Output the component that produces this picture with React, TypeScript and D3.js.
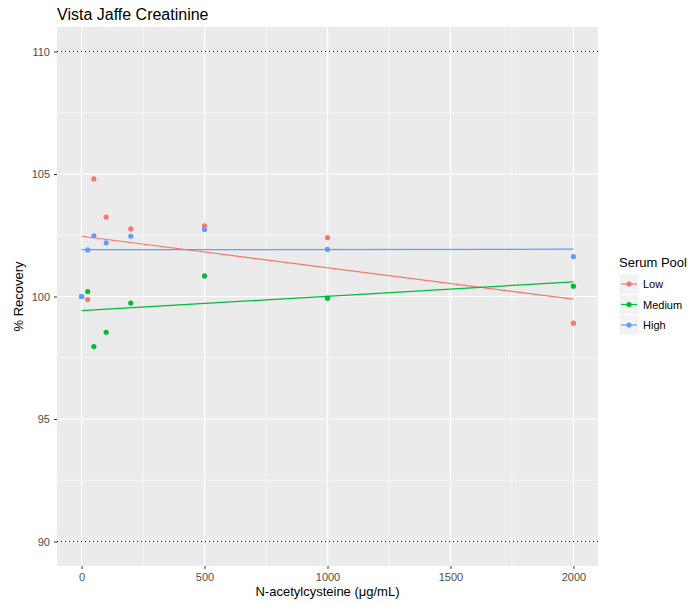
import React, { useRef, useEffect } from 'react';
import * as d3 from 'd3';

// N-acetylcysteine concentrations (ug/mL)
const doses = [0, 25, 50, 100, 200, 500, 1000, 2000];
const pools = ['Low', 'Medium', 'High'];
const colors = ['#F8766D', '#00BA38', '#619CFF'];

// % recovery per pool, one value per dose
const lowRecovery = [100.0, 99.88, 104.8, 103.24, 102.76, 102.88, 102.4, 98.91];
const mediumRecovery = [100.0, 100.2, 97.96, 98.54, 99.73, 100.84, 99.93, 100.42];
const highRecovery = [100.0, 101.9, 102.48, 102.19, 102.46, 102.73, 101.92, 101.63];

// linear fit ends (at dose 0 and dose 2000)
const lowFit = [102.46, 99.89];
const mediumFit = [99.42, 100.6];
const highFit = [101.91, 101.93];

const xTicks = [0, 500, 1000, 1500, 2000];
const xMinor = [250, 750, 1250, 1750];
const yTicks = [90, 95, 100, 105, 110];
const yMinor = [92.5, 97.5, 102.5, 107.5];
const limits = [90, 110];

const W = 699;
const H = 604;
const margin = { top: 27, right: 101, bottom: 38, left: 57 };

const App = () => {
  const svgRef = useRef<SVGSVGElement>(null);

  useEffect(() => {
    const svg = d3.select(svgRef.current);
    svg.selectAll('*').remove();

    const font = 'Liberation Sans, Arial, Helvetica, sans-serif';
    const x = d3.scaleLinear().domain([-100, 2100]).range([margin.left, W - margin.right]);
    const y = d3.scaleLinear().domain([89, 111]).range([H - margin.bottom, margin.top]);

    // panel
    svg.append('rect')
      .attr('x', margin.left)
      .attr('y', margin.top)
      .attr('width', W - margin.left - margin.right)
      .attr('height', H - margin.top - margin.bottom)
      .attr('fill', '#EBEBEB');

    const grid = svg.append('g');
    xMinor.forEach((d) => {
      grid.append('line').attr('x1', x(d)).attr('x2', x(d))
        .attr('y1', margin.top).attr('y2', H - margin.bottom)
        .attr('stroke', '#fff').attr('stroke-width', 0.6);
    });
    yMinor.forEach((d) => {
      grid.append('line').attr('y1', y(d)).attr('y2', y(d))
        .attr('x1', margin.left).attr('x2', W - margin.right)
        .attr('stroke', '#fff').attr('stroke-width', 0.6);
    });
    xTicks.forEach((d) => {
      grid.append('line').attr('x1', x(d)).attr('x2', x(d))
        .attr('y1', margin.top).attr('y2', H - margin.bottom)
        .attr('stroke', '#fff').attr('stroke-width', 1.2);
    });
    yTicks.forEach((d) => {
      grid.append('line').attr('y1', y(d)).attr('y2', y(d))
        .attr('x1', margin.left).attr('x2', W - margin.right)
        .attr('stroke', '#fff').attr('stroke-width', 1.2);
    });

    // dotted acceptance limits
    limits.forEach((d) => {
      svg.append('line').attr('y1', y(d)).attr('y2', y(d))
        .attr('x1', margin.left).attr('x2', W - margin.right)
        .attr('stroke', '#000').attr('stroke-width', 1.1)
        .attr('stroke-dasharray', '1,3');
    });

    // axes
    const xAxis = svg.append('g')
      .attr('transform', `translate(0, ${H - margin.bottom})`)
      .call(d3.axisBottom(x).tickValues(xTicks).tickFormat(d3.format('d')).tickSize(3).tickPadding(4));
    const yAxis = svg.append('g')
      .attr('transform', `translate(${margin.left}, 0)`)
      .call(d3.axisLeft(y).tickValues(yTicks).tickFormat(d3.format('d')).tickSize(3).tickPadding(4));
    [xAxis, yAxis].forEach((a) => {
      a.select('.domain').remove();
      a.selectAll('line').attr('stroke', '#333');
      a.selectAll('text').attr('fill', '#4D4D4D').style('font-family', font).style('font-size', '11px');
    });

    const series = [lowRecovery, mediumRecovery, highRecovery];
    const fits = [lowFit, mediumFit, highFit];
    const line = d3.line<[number, number]>().x((d) => x(d[0])).y((d) => y(d[1]));

    series.forEach((vals, i) => {
      svg.append('g').selectAll('circle')
        .data(vals)
        .enter()
        .append('circle')
        .attr('cx', (d, j) => x(doses[j]))
        .attr('cy', (d) => y(d))
        .attr('r', 2.6)
        .attr('fill', colors[i]);
      svg.append('path')
        .datum([[0, fits[i][0]], [2000, fits[i][1]]] as [number, number][])
        .attr('fill', 'none')
        .attr('stroke', colors[i])
        .attr('stroke-width', 1.2)
        .attr('d', line);
    });

    // title
    svg.append('text')
      .attr('x', margin.left)
      .attr('y', 20)
      .style('font-family', font)
      .style('font-size', '16px')
      .attr('fill', '#000')
      .text('Vista Jaffe Creatinine');

    // axis titles
    svg.append('text')
      .attr('x', (margin.left + W - margin.right) / 2)
      .attr('y', 596)
      .attr('text-anchor', 'middle')
      .style('font-family', font)
      .style('font-size', '13px')
      .text('N-acetylcysteine (\u03bcg/mL)');

    svg.append('text')
      .attr('transform', 'rotate(-90)')
      .attr('x', -(margin.top + H - margin.bottom) / 2)
      .attr('y', 23)
      .attr('text-anchor', 'middle')
      .style('font-family', font)
      .style('font-size', '13px')
      .text('% Recovery');

    // legend
    const lg = svg.append('g').attr('transform', 'translate(619, 274)');
    lg.append('text')
      .attr('x', 0)
      .attr('y', -7)
      .style('font-family', font)
      .style('font-size', '13px')
      .text('Serum Pool');
    pools.forEach((p, i) => {
      const row = lg.append('g').attr('transform', `translate(0, ${i * 20.5})`);
      row.append('rect').attr('width', 20).attr('height', 20).attr('fill', '#F2F2F2')
        .attr('stroke', '#fff').attr('stroke-width', 0.8);
      row.append('line').attr('x1', 2).attr('x2', 18).attr('y1', 10).attr('y2', 10)
        .attr('stroke', colors[i]).attr('stroke-width', 1.2);
      row.append('circle').attr('cx', 10).attr('cy', 10).attr('r', 2.6).attr('fill', colors[i]);
      row.append('text')
        .attr('x', 24)
        .attr('y', 14)
        .style('font-family', font)
        .style('font-size', '11px')
        .text(p);
    });
  }, []);

  return (
    <svg
      ref={svgRef}
      width={W}
      height={H}
      style={{ position: 'absolute', left: 0, top: 0, background: '#fff' }}
    />
  );
};

export default App;
